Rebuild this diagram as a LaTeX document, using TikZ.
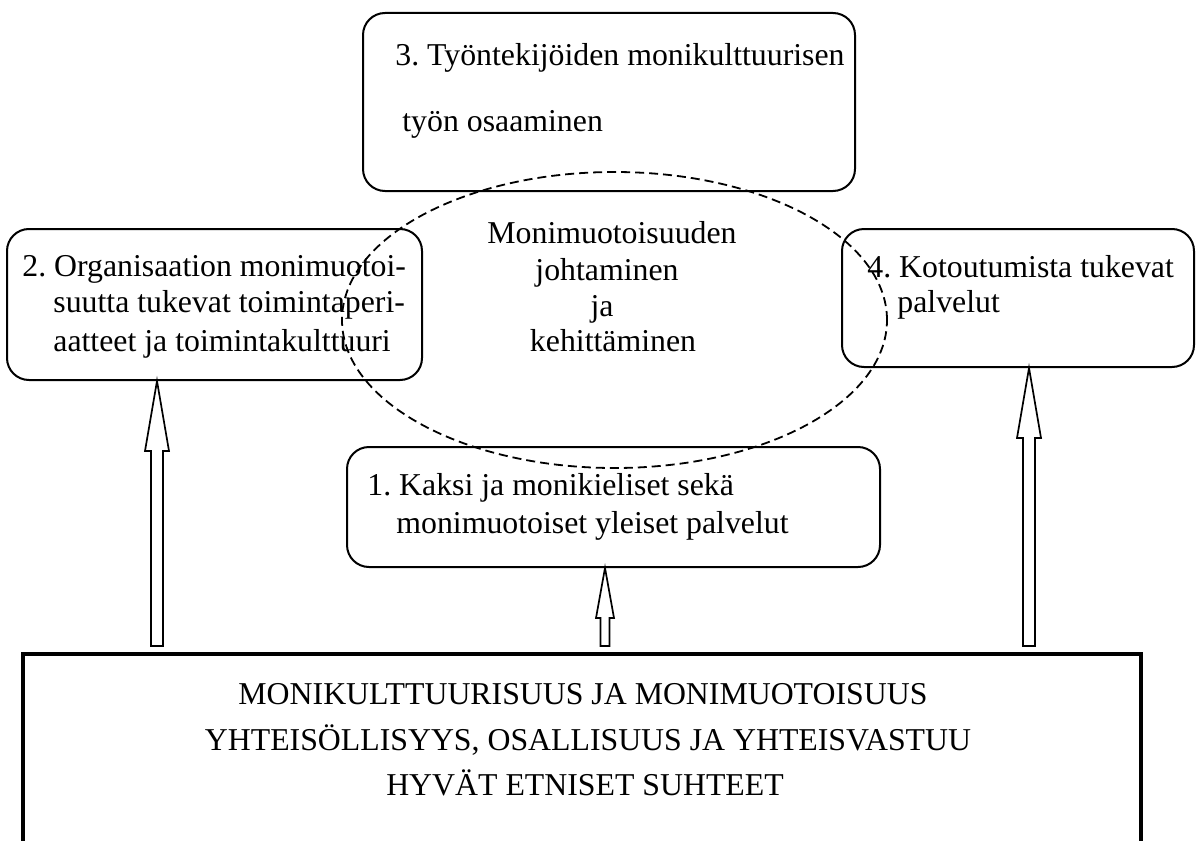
\documentclass[tikz,border=0pt]{standalone}
\usepackage{fontspec}
\setmainfont{Liberation Serif}
\usetikzlibrary{calc,shapes.geometric}

\tikzset{
	roundbox/.style={draw, rounded corners=11pt, line width=1pt, inner sep=0pt},
	txt/.style={inner sep=0pt, font=\fontsize{15.9}{19}\selectfont},
	hollow/.style={line width=0.85pt, fill=white, line join=miter},
}

% hollow block arrow: foot, tip, half shaft, half head, head length
\newcommand{\hollowup}[5]{%
	\draw[hollow] let \p1=(#1), \p2=(#2) in
		(\x2-#3,\y1+3pt) -- (\x2-#3,\y2-#5) -- (\x2-#4,\y2-#5) -- (\x2,\y2)
		-- (\x2+#4,\y2-#5) -- (\x2+#3,\y2-#5) -- (\x2+#3,\y1+3pt) -- cycle;}

\begin{document}
\frenchspacing
\begin{tikzpicture}[x=0.5pt,y=-0.5pt]
	\useasboundingbox (0,0) rectangle (1198,840);
	\clip (0,0) rectangle (1198,840);

	\node[roundbox, minimum width=246pt, minimum height=89pt] (work) at (609,102) {};
	\node[roundbox, minimum width=207.5pt, minimum height=75.5pt] (org) at (214.5,304.5) {};
	\node[roundbox, minimum width=176pt, minimum height=69pt] (integ) at (1018,298) {};
	\node[roundbox, minimum width=266.5pt, minimum height=60pt] (serv) at (613.5,507) {};
	\node[draw, line width=2pt, minimum width=559pt, minimum height=123pt, inner sep=0pt] (base) at (582,777) {};

	\node[txt, anchor=base west] (work1) at (395,66) {3. Työntekijöiden monikulttuurisen};
	\node[txt, anchor=base west] (work2) at (402,132) {työn osaaminen};
	\node[txt, anchor=base west] (org1) at (22,276) {2. Organisaation monimuotoi-};
	\node[txt, anchor=base west] (org2) at (53,312) {suutta tukevat toimintaperi-};
	\node[txt, anchor=base west] (org3) at (53,351) {aatteet ja toimintakulttuuri};
	\node[txt, anchor=base west] (integ1) at (867,277) {4. Kotoutumista tukevat};
	\node[txt, anchor=base west] (integ2) at (897,312) {palvelut};
	\node[txt, anchor=base west] (serv1) at (367,495) {1. Kaksi ja monikieliset sekä};
	\node[txt, anchor=base west] (serv2) at (396,533) {monimuotoiset yleiset palvelut};

	\node[draw, dashed, dash pattern=on 4.5pt off 2.5pt, line width=0.9pt, ellipse, inner sep=0pt,
		minimum width=272.5pt, minimum height=148pt] (lead) at (614.5,320) {};
	\node[txt, anchor=base] (lead1) at (612,243) {Monimuotoisuuden};
	\node[txt, anchor=base] (lead2) at (607,280) {johtaminen};
	\node[txt, anchor=base] (lead3) at (602,316) {ja};
	\node[txt, anchor=base] (lead4) at (613,351) {kehittäminen};

	\node[txt, anchor=base] (val1) at (583,704) {MONIKULTTUURISUUS JA MONIMUOTOISUUS};
	\node[txt, anchor=base] (val2) at (588,750) {YHTEISÖLLISYYS, OSALLISUUS JA YHTEISVASTUU};
	\node[txt, anchor=base] (val3) at (585,795) {HYVÄT ETNISET SUHTEET};

	\coordinate (a2) at (157,0);
	\coordinate (a1) at (605,0);
	\coordinate (a4) at (1029,0);
	\hollowup{a2 |- base.north}{a2 |- org.south}{3pt}{6pt}{35pt}
	\hollowup{a1 |- base.north}{a1 |- serv.south}{2.25pt}{4.5pt}{25pt}
	\hollowup{a4 |- base.north}{a4 |- integ.south}{3pt}{6pt}{35pt}
\end{tikzpicture}
\end{document}
